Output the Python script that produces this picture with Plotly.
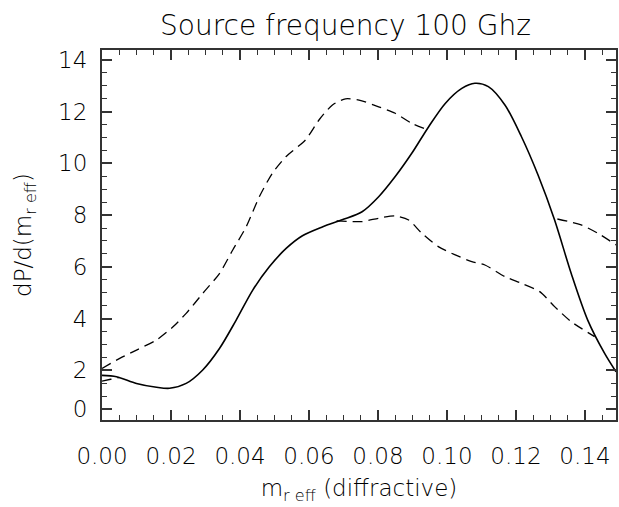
import plotly.graph_objects as go

# Solid curve
solid_x = [0.0000, 0.0042, 0.0100, 0.0158, 0.0196, 0.0244, 0.0292, 0.0341, 0.0389,
           0.0437, 0.0485, 0.0533, 0.0581, 0.0640, 0.0696, 0.0754, 0.0802, 0.0850,
           0.0898, 0.0947, 0.0995, 0.1043, 0.1081, 0.1120, 0.1168, 0.1216, 0.1264,
           0.1312, 0.1360, 0.1408, 0.1457, 0.1490]
solid_y = [1.80, 1.75, 1.49, 1.34, 1.30, 1.49, 2.01, 2.85, 3.94,
           5.10, 6.00, 6.70, 7.20, 7.55, 7.82, 8.13, 8.71, 9.49,
           10.39, 11.42, 12.32, 12.90, 13.10, 12.97, 12.26, 11.03, 9.55,
           7.81, 5.75, 3.94, 2.65, 1.94]

# Dashed curve, drawn as separate branches (None separates branches)
dash_x = [0.0000, 0.0025, 0.0050, None,
          0.0000, 0.0042, 0.0100, 0.0158, 0.0206, 0.0244, 0.0292, 0.0341, 0.0379,
          0.0418, 0.0456, 0.0494, 0.0533, 0.0590, 0.0629, 0.0668, 0.0706, 0.0745,
          0.0802, 0.0850, 0.0898, 0.0940, None,
          0.0680, 0.0754, 0.0802, 0.0850, 0.0889, 0.0927, 0.0975, 0.1024, 0.1072,
          0.1110, 0.1168, 0.1216, 0.1269, 0.1312, 0.1360, 0.1428, None,
          0.1320, 0.1389, 0.1437, 0.1490]
dash_y = [1.58, 1.65, 1.72, None,
          2.07, 2.39, 2.78, 3.17, 3.68, 4.20, 4.97, 5.75, 6.65,
          7.55, 8.71, 9.62, 10.26, 10.91, 11.68, 12.26, 12.50, 12.45,
          12.19, 11.94, 11.55, 11.32, None,
          7.78, 7.75, 7.88, 7.97, 7.81, 7.30, 6.78, 6.46, 6.20,
          6.07, 5.62, 5.36, 5.04, 4.46, 3.88, 3.30, None,
          7.85, 7.62, 7.30, 6.85]

x_tickvals = [0.00, 0.02, 0.04, 0.06, 0.08, 0.10, 0.12, 0.14]
x_ticktext = ["0.00", "0.02", "0.04", "0.06", "0.08", "0.10", "0.12", "0.14"]
# the reference draws its "0" label on the first half-unit tick
y_tickvals = [0.5, 2, 4, 6, 8, 10, 12, 14]
y_ticktext = ["0", "2", "4", "6", "8", "10", "12", "14"]

FONT = "DejaVu Sans"
TXT = dict(family=FONT, size=23, color="black", weight=200)

fig = go.Figure()
fig.add_trace(go.Scatter(x=dash_x, y=dash_y, mode="lines", connectgaps=False,
                         line=dict(color="black", width=1.3, dash="10px,6px", shape="spline", smoothing=0.7),
                         showlegend=False, hoverinfo="skip"))
fig.add_trace(go.Scatter(x=solid_x, y=solid_y, mode="lines",
                         line=dict(color="black", width=1.6, shape="spline", smoothing=0.85),
                         showlegend=False, hoverinfo="skip"))

axis_common = dict(showline=True, linecolor="#333", linewidth=2, mirror="ticks",
                   showgrid=False, zeroline=False, ticks="inside", tickcolor="#333",
                   tickwidth=1.5, tickfont=TXT)

fig.update_xaxes(range=[0, 0.149], tickvals=x_tickvals, ticktext=x_ticktext, ticklen=10,
                 ticklabelstandoff=14,
                 minor=dict(ticks="inside", dtick=0.005, tick0=0, ticklen=5, tickcolor="#333", tickwidth=1.2),
                 title=dict(text="m<sub>r eff</sub> (diffractive)", font=TXT, standoff=12),
                 **axis_common)
fig.update_yaxes(range=[0.074, 14.387], tickvals=y_tickvals, ticktext=y_ticktext, ticklen=10,
                 ticklabelstandoff=8,
                 minor=dict(ticks="inside", dtick=0.5, tick0=0, ticklen=5, tickcolor="#333", tickwidth=1.2),
                 title=dict(text="dP/d(m<sub>r eff</sub>)", font=TXT, standoff=20),
                 **axis_common)

fig.update_layout(
    width=619, height=507,
    margin=dict(l=102, r=1, t=50, b=87),
    paper_bgcolor="white", plot_bgcolor="white",
    title=dict(text="Source frequency 100 Ghz", x=345.5 / 619, xanchor="center",
               y=1 - 25 / 507, yanchor="middle",
               font=dict(family=FONT, size=28, color="black", weight=200)),
)

fig.write_html("out.html")
